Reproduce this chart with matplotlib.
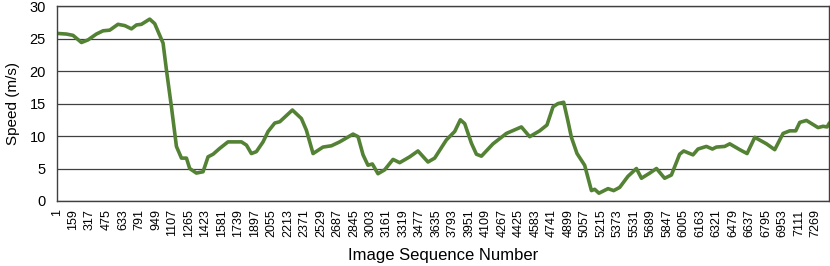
import matplotlib.pyplot as plt
import numpy as np

plt.rcParams['font.family'] = ['Liberation Sans', 'DejaVu Sans']

# image sequence numbers and speeds
image_no = [1, 91, 154, 235, 298, 378, 442, 506, 585, 650, 714, 762, 810, 889, 937,
            1017, 1049, 1097, 1145, 1193, 1241, 1272, 1336, 1400, 1448, 1496, 1560,
            1639, 1703, 1768, 1816, 1863, 1911, 1975, 2023, 2087, 2135, 2256, 2342,
            2390, 2454, 2549, 2630, 2709, 2837, 2885, 2933, 2980, 3022, 3076, 3140,
            3220, 3284, 3380, 3459, 3555, 3619, 3731, 3811, 3865, 3907, 3971, 4019,
            4067, 4178, 4306, 4450, 4529, 4625, 4695, 4753, 4801, 4855, 4896, 4929,
            4983, 5056, 5121, 5152, 5193, 5280, 5334, 5392, 5471, 5552, 5600, 5680,
            5744, 5822, 5887, 5966, 6005, 6094, 6142, 6222, 6280, 6318, 6398, 6446,
            6542, 6612, 6686, 6798, 6877, 6957, 7021, 7078, 7117, 7181, 7292, 7340,
            7378, 7397]
speed = [25.8, 25.7, 25.5, 24.4, 24.8, 25.7, 26.2, 26.3, 27.2, 27.0, 26.5, 27.1, 27.2,
         28.0, 27.3, 24.3, 20.2, 14.5, 8.4, 6.6, 6.6, 5.0, 4.3, 4.5, 6.8, 7.2, 8.1,
         9.1, 9.1, 9.1, 8.6, 7.3, 7.6, 9.1, 10.7, 12.0, 12.2, 14.0, 12.7, 10.9, 7.3,
         8.3, 8.5, 9.1, 10.3, 9.9, 7.1, 5.5, 5.7, 4.2, 4.8, 6.4, 5.9, 6.8, 7.7, 6.0,
         6.6, 9.4, 10.7, 12.5, 11.9, 8.9, 7.2, 6.9, 8.8, 10.4, 11.4, 9.9, 10.8, 11.7,
         14.5, 15.0, 15.2, 12.3, 9.8, 7.3, 5.5, 1.6, 1.8, 1.2, 1.9, 1.6, 2.1, 3.8,
         5.0, 3.5, 4.3, 5.0, 3.5, 4.0, 7.2, 7.7, 7.1, 8.0, 8.4, 8.0, 8.3, 8.4, 8.8,
         7.9, 7.3, 9.8, 8.8, 7.9, 10.4, 10.8, 10.8, 12.1, 12.4, 11.3, 11.5, 11.4,
         11.9]
tick_vals = list(range(1, 7270, 158))

fig = plt.figure(figsize=(8.3, 2.66), dpi=100)
ax = fig.add_axes([0.0687, 0.2444, 0.9301, 0.7326])

ax.plot(image_no, speed, color='#548235', lw=2.6, solid_joinstyle='round')

ax.set_xlim(1, 7397)
ax.set_ylim(0, 30)
ax.set_xticks(tick_vals)
ax.set_xticklabels([str(t) for t in tick_vals], rotation=90, fontsize=9)
ax.set_yticks(range(0, 31, 5))
ax.tick_params(axis='y', labelsize=10.5, length=0, pad=8)
ax.tick_params(axis='x', length=0, pad=6)
ax.grid(axis='y', color='#404040', lw=0.9)
ax.set_axisbelow(True)
for s in ax.spines.values():
    s.set_color('#404040')
    s.set_linewidth(1.0)

ax.set_ylabel('Speed (m/s)', fontsize=11, labelpad=7)
ax.set_xlabel('Image Sequence Number', fontsize=12, labelpad=8)

fig.savefig('out.png', dpi=100)
